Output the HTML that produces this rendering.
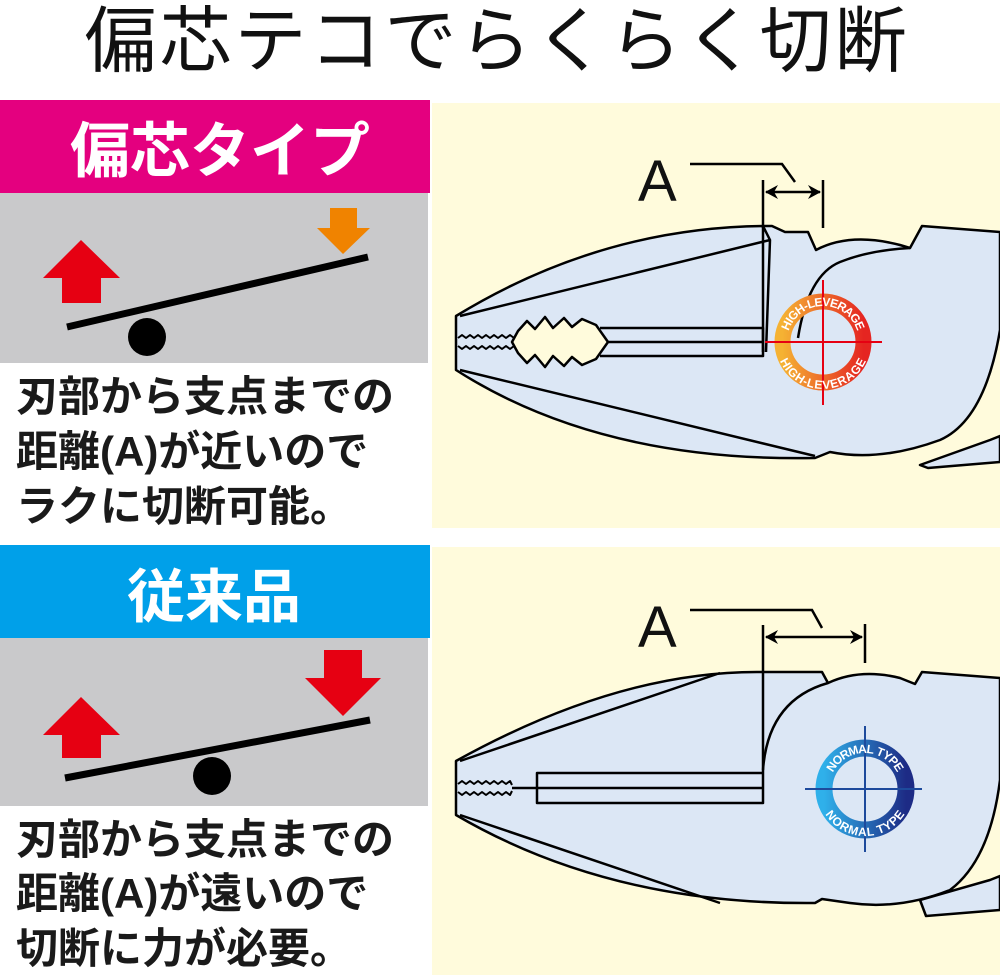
<!DOCTYPE html>
<html><head><meta charset="utf-8"><style>
body{margin:0;width:1000px;height:980px;background:#fff;overflow:hidden;position:relative;font-family:"Liberation Sans","Noto Sans CJK JP",sans-serif}
.t{position:absolute;left:16px;font-weight:bold;font-size:42px;line-height:50px;color:#1a1a1a;white-space:nowrap;letter-spacing:0px}
</style></head><body>
<svg width="1000" height="980" style="position:absolute;left:0;top:0" font-family="Liberation Sans, Noto Sans CJK JP, sans-serif">
<defs>
<linearGradient id="og" x1="0" y1="0" x2="1" y2="0"><stop offset="0" stop-color="#f5b233"/><stop offset="1" stop-color="#e52521"/></linearGradient>
<linearGradient id="bg" x1="0" y1="0" x2="1" y2="0"><stop offset="0" stop-color="#2fb0ea"/><stop offset="1" stop-color="#1d2b85"/></linearGradient>
<path id="r1t" d="M783,342 A40,40 0 0 1 863,342"/>
<path id="r1b" d="M780,342 A43,43 0 0 0 866,342"/>
<path id="r2t" d="M825,789 A40,40 0 0 1 905,789"/>
<path id="r2b" d="M822,789 A43,43 0 0 0 908,789"/>
</defs>
<text x="497" y="66" font-size="72" text-anchor="middle" fill="#111" letter-spacing="3">偏芯テコでらくらく切断</text>
<!-- top left -->
<rect x="0" y="100" width="430" height="93" fill="#e4007f"/>
<text x="220" y="172" font-size="60" font-weight="bold" fill="#fff" text-anchor="middle">偏芯タイプ</text>
<rect x="0" y="193" width="428" height="170" fill="#c9c9cb"/>
<line x1="67" y1="327" x2="368" y2="257" stroke="#000" stroke-width="7"/>
<circle cx="147" cy="337" r="19" fill="#000"/>
<polygon points="81,240 120,278 101,278 101,303 62,303 62,278 43,278" fill="#e60012"/>
<polygon points="330,208 357,208 357,228 370,228 343,254 317,228 330,228" fill="#f08300"/>
<!-- bottom left -->
<rect x="0" y="545" width="430" height="93" fill="#00a0e9"/>
<text x="214" y="617" font-size="58" font-weight="bold" fill="#fff" text-anchor="middle">従来品</text>
<rect x="0" y="638" width="428" height="168" fill="#c9c9cb"/>
<line x1="65" y1="778" x2="370" y2="720" stroke="#000" stroke-width="7"/>
<circle cx="212" cy="776" r="19" fill="#000"/>
<polygon points="81,697 120,735 101,735 101,758 62,758 62,735 43,735" fill="#e60012"/>
<polygon points="324,650 362,650 362,678 381,678 343,716 305,678 324,678" fill="#e60012"/>
<!-- right panels -->
<rect x="432" y="103" width="568" height="425" fill="#fffbdc"/>
<rect x="432" y="547" width="568" height="428" fill="#fffbdc"/>

<g stroke="#000" stroke-width="2.5" fill="#dce7f5" stroke-linejoin="round">
<!-- top pliers -->
<path d="M456,316 Q600,228 763,226 L772,226 L785,232 L808,232 L816,250 Q850,232 900,245 L910,248 L922,226 L1000,232 L1000,330 Q985,420 940,440 Q880,462 830,452 L815,458 Q600,462 456,370 Z"/>
<path d="M920,465 L990,440 L1000,436 L1000,462 L928,468 Z"/>
<path d="M460,316 L770,240 M763,226 L770,240 L766,352 M763,226 L763,352" fill="none"/>
<path d="M798,338 Q808,275 840,262 Q870,250 910,248" fill="none"/>
<path d="M460,370 L815,456" fill="none"/>
<path d="M600,328 L763,328 L763,356 L600,356 M607,342 L763,342" fill="none"/>
<path d="M458,338 l4,-3 l4,3 l4,-3 l4,3 l4,-3 l4,3 l4,-3 l4,3 l4,-3 l4,3 l4,-3 l4,3 l4,-3 l4,3 M458,346 l4,3 l4,-3 l4,3 l4,-3 l4,3 l4,-3 l4,3 l4,-3 l4,3 l4,-3 l4,3 l4,-3 l4,3 l4,-3 l4,3" fill="none" stroke-width="2"/>
<path d="M518,331 L527,321 L535,329 L545,317 L553,328 L564,318 L572,327 L582,319 L596,325 L608,342 L596,359 L582,365 L572,357 L564,366 L553,356 L545,367 L535,355 L527,363 L518,353 L512,342 Z" fill="#fffbdc"/>
<!-- bottom pliers -->
<path d="M456,761 Q620,670 763,672 L822,672 L828,683 Q860,668 900,678 L915,684 L922,672 L1000,678 L1000,780 Q990,860 950,890 Q900,910 850,903 L822,899 L815,903 Q610,905 456,815 Z"/>
<path d="M920,900 L990,880 L1000,876 L1000,910 L926,916 Z"/>
<path d="M460,761 L720,673 M460,815 L720,903" fill="none"/>
<path d="M763,770 Q768,700 828,683" fill="none"/>
<path d="M537,773 L763,773 L763,803 L537,803 Z M512,788 L763,788 M763,625 L763,800" fill="none"/>
<path d="M458,784 l4,-3 l4,3 l4,-3 l4,3 l4,-3 l4,3 l4,-3 l4,3 l4,-3 l4,3 l4,-3 l4,3 l4,-3 l2,4 M458,792 l4,3 l4,-3 l4,3 l4,-3 l4,3 l4,-3 l4,3 l4,-3 l4,3 l4,-3 l4,3 l4,-3 l4,3 l2,-4" fill="none" stroke-width="2"/>
</g>
<!-- dimension lines -->
<g stroke="#000" stroke-width="2.5" fill="none">
<path d="M690,164 L782,164 L795,182"/>
<path d="M763,180 L763,228 M823,180 L823,228 M766,192 L820,192"/>
<path d="M690,610 L812,610 L822,628"/>
<path d="M865,624 L865,663 M766,637 L862,637"/>
</g>
<g fill="#000">
<polygon points="765,192 778,185 774,192 778,199"/><polygon points="821,192 808,185 812,192 808,199"/>
<polygon points="765,637 778,630 774,637 778,644"/><polygon points="863,637 850,630 854,637 850,644"/>
</g>
<text x="638" y="201" font-size="58" fill="#111">A</text>
<text x="638" y="647" font-size="58" fill="#111">A</text>
<!-- rings -->
<circle cx="823" cy="342" r="40.5" fill="none" stroke="url(#og)" stroke-width="16"/>
<path d="M823,280 L823,405 M765,342 L882,342" stroke="#e60012" stroke-width="2"/>
<text font-size="12" font-weight="bold" fill="#fff" dy="4"><textPath href="#r1t" startOffset="50%" text-anchor="middle">HIGH-LEVERAGE</textPath></text>
<text font-size="12" font-weight="bold" fill="#fff" dy="4"><textPath href="#r1b" startOffset="50%" text-anchor="middle">HIGH-LEVERAGE</textPath></text>
<circle cx="865" cy="789" r="41" fill="none" stroke="url(#bg)" stroke-width="17"/>
<path d="M865,726 L865,852 M805,789 L922,789" stroke="#1d4a9c" stroke-width="2"/>
<text font-size="12" font-weight="bold" fill="#fff" dy="4"><textPath href="#r2t" startOffset="50%" text-anchor="middle">NORMAL TYPE</textPath></text>
<text font-size="12" font-weight="bold" fill="#fff" dy="4"><textPath href="#r2b" startOffset="50%" text-anchor="middle">NORMAL TYPE</textPath></text>
</svg>
<div class="t" style="top:372px">刃部から支点までの</div>
<div class="t" style="top:427px">距離(A)が近いので</div>
<div class="t" style="top:482px">ラクに切断可能。</div>
<div class="t" style="top:815px">刃部から支点までの</div>
<div class="t" style="top:869px">距離(A)が遠いので</div>
<div class="t" style="top:924px">切断に力が必要。</div>
</body></html>
